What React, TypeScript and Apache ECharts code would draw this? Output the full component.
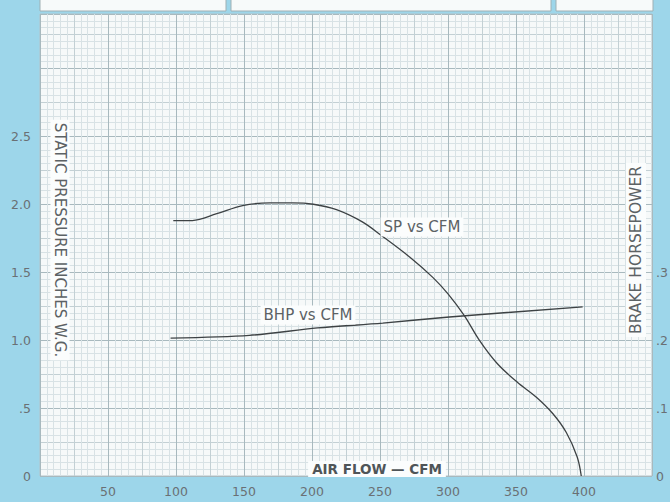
import React, { useEffect, useRef } from "react";
import * as echarts from "echarts";

// Static pressure curve (inches W.G.) vs air flow (CFM)
const spCfm = [98, 112, 130, 149, 169, 186, 201, 218, 237, 251, 272, 289, 300, 312, 323, 336, 351, 365, 377, 387, 395, 398];
const spInches = [1.88, 1.88, 1.93, 1.99, 2.01, 2.01, 2.0, 1.96, 1.87, 1.77, 1.61, 1.46, 1.34, 1.18, 1.0, 0.83, 0.69, 0.58, 0.46, 0.32, 0.14, 0];

// Brake horsepower curve vs air flow (CFM)
const bhpCfm = [96, 154, 204, 252, 301, 399];
const bhpValues = [0.203, 0.207, 0.218, 0.225, 0.234, 0.249];

// Tick labels shown
const xTickLabels = [50, 100, 150, 200, 250, 300, 350, 400];
const spTickLabels = ["0", ".5", "1.0", "1.5", "2.0", "2.5"];
const bhpTickLabels = ["0", ".1", ".2", ".3"];

const FONT = "'DejaVu Sans', 'Liberation Sans', Arial, sans-serif";
const TXT = "#5c6265";

export default function App() {
  const ref = useRef<HTMLDivElement>(null);

  useEffect(() => {
    if (!ref.current) return;
    const chart = echarts.init(ref.current, undefined, { renderer: "svg" });

    const spData = spCfm.map((c, i) => [c, spInches[i]]);
    const bhpData = bhpCfm.map((c, i) => [c, bhpValues[i]]);

    const tickLabel = {
      color: "#6a7074",
      fontSize: 12.5,
      fontFamily: FONT,
    };

    const option: any = {
      animation: false,
      backgroundColor: "#9dd6ea",
      grid: {
        left: 40,
        right: 18,
        top: 14,
        bottom: 26,
        containLabel: false,
        outerBoundsMode: "none",
        show: true,
        backgroundColor: "#f6f9f9",
        borderColor: "#b3c3c8",
        borderWidth: 1,
      },
      xAxis: {
        type: "value",
        min: 0,
        max: 450,
        interval: 25,
        axisLine: { show: false },
        axisTick: { show: false },
        axisLabel: {
          ...tickLabel,
          show: true,
          interval: 0,
          margin: 9,
          formatter: (v: number) => (xTickLabels.indexOf(Math.round(v)) >= 0 ? String(Math.round(v)) : ""),
        },
        splitLine: {
          show: true,
          lineStyle: { color: ["#a8b9be", "#c3d0d4"], width: 1 },
        },
        minorTick: { show: false, splitNumber: 5 },
        minorSplitLine: { show: true, lineStyle: { color: "#d8e2e5", width: 1 } },
      },
      yAxis: [
        {
          type: "value",
          min: 0,
          max: 3.4,
          interval: 0.25,
          axisLine: { show: false },
          axisTick: { show: false },
          axisLabel: {
            ...tickLabel,
            show: true,
            margin: 9,
            formatter: (v: number) => {
              const k = Math.round(v * 100);
              if (k % 50 !== 0) return "";
              const idx = k / 50;
              return idx < spTickLabels.length ? spTickLabels[idx] : "";
            },
          },
          splitLine: {
            show: true,
            lineStyle: { color: ["#a8b9be", "#c3d0d4"], width: 1 },
          },
          minorTick: { show: false, splitNumber: 5 },
          minorSplitLine: { show: true, lineStyle: { color: "#d8e2e5", width: 1 } },
        },
        {
          type: "value",
          min: 0,
          max: 0.68,
          interval: 0.1,
          position: "right",
          axisLine: { show: false },
          axisTick: { show: false },
          splitLine: { show: false },
          axisLabel: {
            ...tickLabel,
            show: true,
            margin: 4,
            formatter: (v: number) => {
              const k = Math.round(v * 100);
              if (k % 10 !== 0) return "";
              const idx = k / 10;
              return idx < bhpTickLabels.length ? bhpTickLabels[idx] : "";
            },
          },
        },
      ],
      series: [
        {
          name: "SP vs CFM",
          type: "line",
          yAxisIndex: 0,
          data: spData,
          smooth: 0.35,
          showSymbol: false,
          lineStyle: { color: "#3d4244", width: 1.3 },
          z: 5,
        },
        {
          name: "BHP vs CFM",
          type: "line",
          yAxisIndex: 1,
          data: bhpData,
          smooth: 0.3,
          showSymbol: false,
          lineStyle: { color: "#3d4244", width: 1.4 },
          z: 5,
        },
      ],
      graphic: [
        // header form boxes
        { type: "rect", shape: { x: 40, y: -2, width: 186, height: 13 }, style: { fill: "#f7fafa", stroke: "#9fb0b4", lineWidth: 1 } },
        { type: "rect", shape: { x: 231, y: -2, width: 320, height: 13 }, style: { fill: "#f7fafa", stroke: "#9fb0b4", lineWidth: 1 } },
        { type: "rect", shape: { x: 556, y: -2, width: 97, height: 13 }, style: { fill: "#f7fafa", stroke: "#9fb0b4", lineWidth: 1 } },
        {
          type: "text",
          x: 60,
          y: 240,
          rotation: -Math.PI / 2,
          z: 20,
          style: {
            text: "STATIC PRESSURE INCHES W.G.",
            fill: TXT,
            font: `15px ${FONT}`,
            align: "center",
            verticalAlign: "middle",
            backgroundColor: "#fbfdfd",
            padding: [2, 3],
          },
        },
        {
          type: "text",
          x: 636,
          y: 250,
          rotation: Math.PI / 2,
          z: 20,
          style: {
            text: "BRAKE HORSEPOWER",
            fill: TXT,
            font: `15.5px ${FONT}`,
            align: "center",
            verticalAlign: "middle",
            backgroundColor: "#fbfdfd",
            padding: [2, 3],
          },
        },
        {
          type: "text",
          x: 377,
          y: 469,
          z: 20,
          style: {
            text: "AIR FLOW — CFM",
            fill: "#4f5558",
            font: `bold 13.5px ${FONT}`,
            align: "center",
            verticalAlign: "middle",
            backgroundColor: "#fbfdfd",
            padding: [1, 4],
          },
        },
        {
          type: "text",
          x: 422,
          y: 227,
          z: 20,
          style: {
            text: "SP vs CFM",
            fill: TXT,
            font: `15px ${FONT}`,
            align: "center",
            verticalAlign: "middle",
            backgroundColor: "#fbfdfd",
            padding: [2, 3],
          },
        },
        {
          type: "text",
          x: 308,
          y: 315,
          z: 20,
          style: {
            text: "BHP vs CFM",
            fill: TXT,
            font: `15px ${FONT}`,
            align: "center",
            verticalAlign: "middle",
            backgroundColor: "#fbfdfd",
            padding: [2, 3],
          },
        },
      ],
    };

    chart.setOption(option);
    return () => chart.dispose();
  }, []);

  return (
    <div
      ref={ref}
      style={{ position: "fixed", left: 0, top: 0, width: 670, height: 502 }}
    />
  );
}
